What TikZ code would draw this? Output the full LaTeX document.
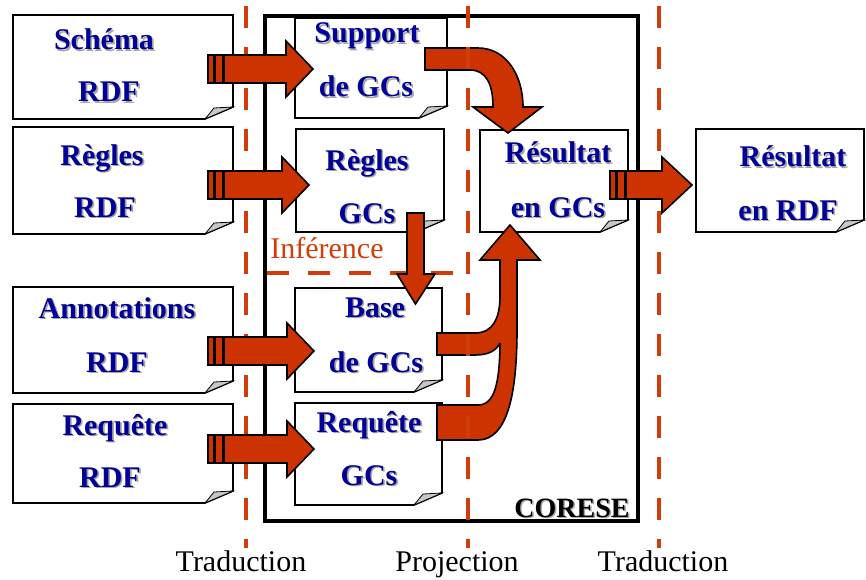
\documentclass[tikz,border=0pt]{standalone}
\usepackage{fontspec}
\setmainfont{Liberation Serif}
\definecolor{arr}{RGB}{204,51,0}
\definecolor{txtblue}{RGB}{0,0,153}
\definecolor{dashred}{RGB}{208,60,10}
\tikzset{
  pagebox/.style={draw=black, line width=1.6pt, fill=white, line join=miter},
  foldtri/.style={draw=black, line width=0.8pt, fill=black!22},
  blk/.style={draw=black, line width=1.6pt, fill=arr, line join=miter},
  vdash/.style={draw=dashred, line width=4.5pt, dash pattern=on 22pt off 19pt},
  lbl/.style={font=\bfseries\fontsize{30}{36}\selectfont, text=txtblue, anchor=base, inner sep=0pt},
  lblsh/.style={font=\bfseries\fontsize{30}{36}\selectfont, text=black!35, anchor=base, inner sep=0pt},
  corese/.style={font=\bfseries\fontsize{28}{34}\selectfont, text=black, anchor=base, inner sep=0pt},
  coresesh/.style={font=\bfseries\fontsize{28}{34}\selectfont, text=black!35, anchor=base, inner sep=0pt},
  steplbl/.style={font=\fontsize{30}{36}\selectfont, text=black, anchor=base, inner sep=0pt},
  inflbl/.style={font=\fontsize{30}{36}\selectfont, text=dashred, anchor=base, inner sep=0pt},
}
% name, x1, y1, x2, y2
\newcommand\docpage[5]{%
  \path[pagebox] (#2,#3) -- (#4,#3) -- (#4,#5-12) -- (#4-28,#5) -- (#2,#5) -- cycle;
  \path[foldtri] (#4-28,#5) -- (#4-19,#5-11) -- (#4,#5-12) -- cycle;
  \coordinate (#1) at ({(#2+#4)/2},{(#3+#5)/2});
}
% name, x, baseline, text
\newcommand\btxt[4]{%
  \node[lblsh] (#1s) at (#2+1.6,#3+1.6) {#4};
  \node[lbl] (#1) at (#2,#3) {#4};
}
% name, tail x, tip x, center y, head length
\newcommand\sarrow[5]{%
  \path[blk] (#2,#4-14) rectangle (#2+6,#4+14);
  \path[blk] (#2+7,#4-14) rectangle (#2+15,#4+14);
  \path[blk] (#2+16,#4-14) -- (#3-#5,#4-14) -- (#3-#5,#4-28) -- (#3,#4)
     -- (#3-#5,#4+28) -- (#3-#5,#4+14) -- (#2+16,#4+14) -- cycle;
  \coordinate (#1) at (#3,#4);
}
\begin{document}
\begin{tikzpicture}[x=1pt,y=-1pt]
\useasboundingbox (0,0) rectangle (866,580);
\clip (0,0) rectangle (866,580);

% CORESE frame
\draw[line width=4pt] (265,16) rectangle (638,521);

% dashed separators under arrows
\draw[vdash] (246,6) -- (246,548);
\draw[vdash] (659,6) -- (659,548);
\draw[vdash] (267,273) -- (468,273);

% document boxes
\docpage{bschema}{13}{15}{233}{119}
\docpage{bregrdf}{13}{127}{233}{234}
\docpage{bannot}{13}{287}{233}{393}
\docpage{breqrdf}{13}{404}{233}{503}
\docpage{bsupport}{295}{18}{447}{118}
\docpage{breggc}{296}{129}{444}{232}
\docpage{bbase}{295}{288}{442}{392}
\docpage{breqgc}{295}{403}{442}{505}
\docpage{bresgc}{480}{130}{628}{232}
\docpage{bresrdf}{696}{129}{864}{232}

% texts
\btxt{t1a}{104}{50}{Schéma}
\btxt{t1b}{109}{102}{RDF}
\btxt{t2a}{102}{165}{Règles}
\btxt{t2b}{105}{217}{RDF}
\btxt{t3a}{117}{318}{Annotations}
\btxt{t3b}{117}{372}{RDF}
\btxt{t4a}{115}{435}{Requête}
\btxt{t4b}{110}{487}{RDF}
\btxt{t5a}{367}{43}{Support}
\btxt{t5b}{366}{97}{de GCs}
\btxt{t6a}{367}{170}{Règles}
\btxt{t6b}{367}{223}{GCs}
\btxt{t7a}{375}{317}{Base}
\btxt{t7b}{376}{372}{de GCs}
\btxt{t8a}{369}{432}{Requête}
\btxt{t8b}{369}{485}{GCs}
\btxt{t9a}{558}{163}{Résultat}
\btxt{t9b}{558}{217}{en GCs}
\btxt{t10a}{793}{167}{Résultat}
\btxt{t10b}{788}{220}{en RDF}

\node[inflbl] (inf) at (327,258) {Inférence};
\node[coresesh] (coresesh) at (573.5,518.5) {CORESE};
\node[corese] (corese) at (572,517) {CORESE};
\node[steplbl] (trad1) at (241,571) {Traduction};
\node[steplbl] (proj) at (457,571) {Projection};
\node[steplbl] (trad2) at (663,571) {Traduction};

% straight arrows
\sarrow{a1}{208}{313}{69}{27}
\sarrow{a2}{208}{309}{185}{27}
\sarrow{a3}{208}{314}{351}{27}
\sarrow{a4}{208}{314}{449}{27}
\sarrow{a5}{610}{692}{185}{30}

% down arrow Regles GCs -> Base
\path[blk] (407,213) -- (424,213) -- (424,274) -- (435,274) -- (415.5,304)
  -- (397,274) -- (407,274) -- cycle;

% curved arrow Support -> Resultat
\path[blk] (425,48) -- (478,48) .. controls (506,48) and (523,75) .. (523,107)
  -- (542,107) -- (508,133) -- (473,107) -- (493,107)
  .. controls (493,84) and (486,70) .. (470,70) -- (425,70) -- cycle;

% curved arrow Requete -> Resultat
\path[blk] (437,405) -- (478,405) .. controls (494,405) and (500,385) .. (500,340)
  -- (500,260) -- (480,260) -- (510,225) -- (540,260) -- (517,260) -- (517,330)
  .. controls (517,395) and (507,440) .. (478,440) -- (437,440) -- cycle;

% branch Base -> joins
\fill[arr] (437,333) -- (475,333) .. controls (493,333) and (500,318) .. (500,296)
  -- (509,296) -- (509,346) -- (500,343) .. controls (496,351) and (488,355) .. (475,355)
  -- (437,355) -- cycle;
\draw[line width=1.6pt, line join=miter] (500,296) .. controls (500,318) and (493,333) .. (475,333)
  -- (437,333) -- (437,355) -- (475,355) .. controls (488,355) and (496,351) .. (500,343);

% dashed separator on top
\draw[vdash] (468,6) -- (468,548);
\end{tikzpicture}
\end{document}
